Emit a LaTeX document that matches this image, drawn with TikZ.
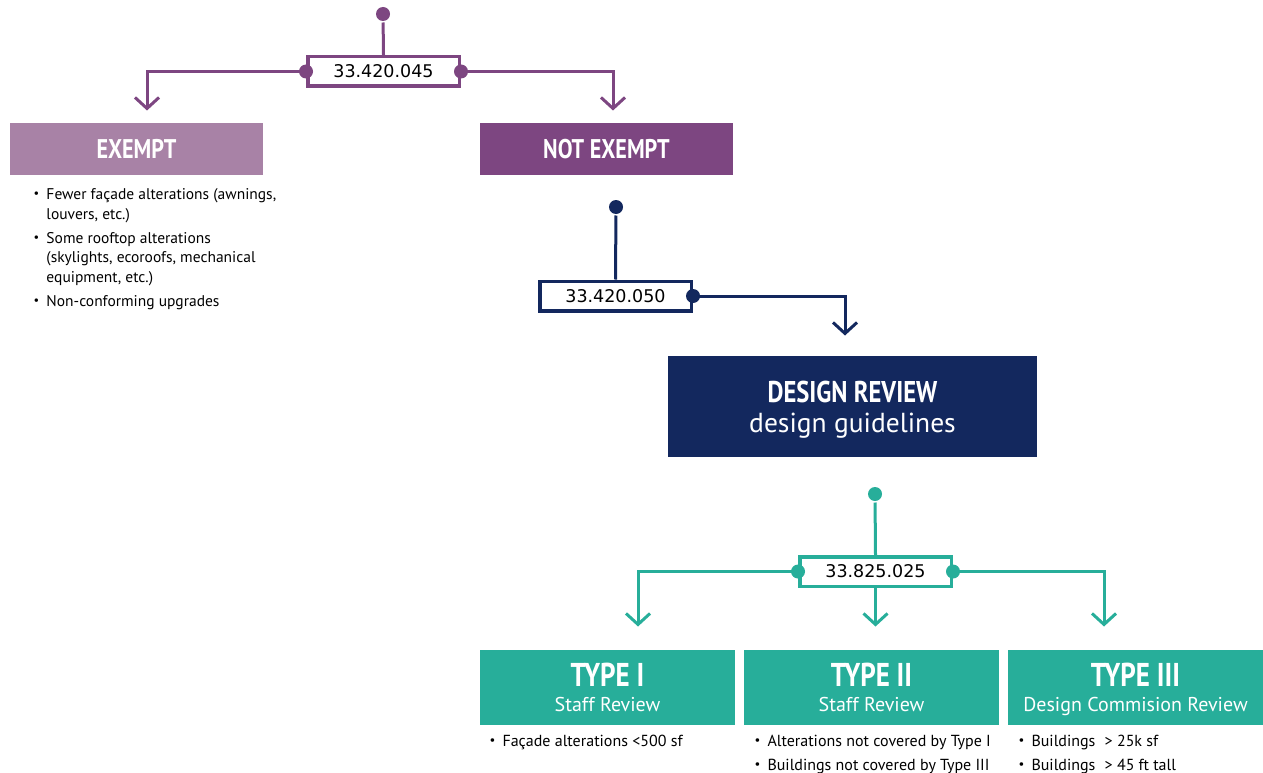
\documentclass[tikz,border=0pt]{standalone}
\usepackage{fontspec}
\usepackage{graphicx}
\setmainfont{PT Sans}
\newfontfamily\codefont{DejaVu Sans}
\newfontfamily\headfont[FakeStretch=0.82]{PT Sans}
\usetikzlibrary{arrows.meta}
\definecolor{plum}{HTML}{7D4681}
\definecolor{plumlight}{HTML}{A882A6}
\definecolor{navyblue}{HTML}{13285E}
\definecolor{tealgrn}{HTML}{27AE9A}
\newcommand\itm{\makebox[13pt][l]{\raisebox{.25ex}{\scalebox{.8}{\textbullet}}}}
\newcommand\ind{\hspace*{13pt}}
\begin{document}
\begin{tikzpicture}[x=1pt, y=-1pt, line width=3pt,
  dot/.style={circle, fill=#1, inner sep=0pt, minimum size=14pt},
  code/.style={draw=#1, line width=3.5pt, fill=white, inner sep=0pt,
    minimum width=151.5pt, minimum height=29.5pt,
    font=\codefont\fontsize{17.5}{17.5}\selectfont},
  hdr/.style={fill=#1, text=white, inner sep=0pt, align=center, text depth=0pt},
  typebox/.style={hdr=tealgrn, minimum width=255pt, minimum height=75pt,
    font=\fontsize{20}{25}\selectfont},
  lst/.style={anchor=north west, inner sep=0pt, align=left},
  arr/.style={-{Straight Barb[length=11pt, width=24pt]}}]
  \useasboundingbox (0,0) rectangle (1263,773);
  % first split: exempt or not
  \node[code=plum] (c045) at (383.5,71.5) {33.420.045};
  \node[dot=plum] (d045) at (383,14) {};
  \draw[plum] (d045) -- (c045.north);
  \node[hdr=plumlight, minimum width=253pt, minimum height=52pt] (exempt)
    at (136.5,149) {\headfont\bfseries\fontsize{27}{27}\selectfont EXEMPT};
  \node[hdr=plum, minimum width=253pt, minimum height=52pt] (notexempt)
    at (606.5,149) {\headfont\bfseries\fontsize{27}{27}\selectfont NOT EXEMPT};
  \draw[plum, arr, shorten >=11pt] (c045.west) -| ([xshift=10.5pt]exempt.north);
  \draw[plum, arr, shorten >=11pt] (c045.east) -| ([xshift=6.5pt]notexempt.north);
  \node[dot=plum] at (c045.west) {};
  \node[dot=plum] at (c045.east) {};
  \node[lst, font=\fontsize{15.5}{19.5}\selectfont] (exemptlist) at (32,187)
    {\itm Fewer façade alterations (awnings,\\
     \ind louvers, etc.)\\[4.5pt]
     \itm Some rooftop alterations\\
     \ind (skylights, ecoroofs, mechanical\\
     \ind equipment, etc.)\\[4.5pt]
     \itm Non-conforming upgrades};
  % design review
  \node[code=navyblue] (c050) at (615.5,296) {33.420.050};
  \node[dot=navyblue] (d050) at (616,207) {};
  \draw[navyblue] (d050) -- (c050.north);
  \node[hdr=navyblue, minimum width=369pt, minimum height=101pt,
    font=\fontsize{27.5}{30}\selectfont] (design) at (852.5,406.5)
    {{\headfont\bfseries\fontsize{30}{30}\selectfont DESIGN REVIEW}\\
     design guidelines};
  \draw[navyblue, arr, shorten >=19pt] (c050.east) -| ([xshift=-7.5pt]design.north);
  \node[dot=navyblue] at (c050.east) {};
  % review types
  \node[code=tealgrn] (c025) at (875.5,571.5) {33.825.025};
  \node[dot=tealgrn] (d025) at (875,494) {};
  \draw[tealgrn] (d025) -- (c025.north);
  \node[typebox] (type1) at (607.5,687)
    {{\headfont\bfseries\fontsize{33}{33}\selectfont TYPE I}\\ Staff Review};
  \node[typebox] (type2) at (871.5,687)
    {{\headfont\bfseries\fontsize{33}{33}\selectfont TYPE II}\\ Staff Review};
  \node[typebox] (type3) at (1135.5,687)
    {{\headfont\bfseries\fontsize{33}{33}\selectfont TYPE III}\\ Design Commision Review};
  \draw[tealgrn, arr, shorten >=21.5pt] (c025.west) -| ([xshift=30.5pt]type1.north);
  \draw[tealgrn, arr, shorten >=21.5pt] (c025.south) -- (c025.south |- type2.north);
  \draw[tealgrn, arr, shorten >=21.5pt] (c025.east) -| ([xshift=-31.5pt]type3.north);
  \node[dot=tealgrn] at (c025.west) {};
  \node[dot=tealgrn] at (c025.east) {};
  \node[lst, font=\fontsize{16}{23.5}\selectfont] (t1list) at (488,734)
    {\itm Façade alterations <500 sf};
  \node[lst, font=\fontsize{16}{23.5}\selectfont] (t2list) at (753,734)
    {\itm Alterations not covered by Type I\\
     \itm Buildings not covered by Type III};
  \node[lst, font=\fontsize{16}{23.5}\selectfont] (t3list) at (1017,734)
    {\itm Buildings\hspace{5pt} > 25k sf\\
     \itm Buildings\hspace{5pt} > 45 ft tall};
\end{tikzpicture}
\end{document}
